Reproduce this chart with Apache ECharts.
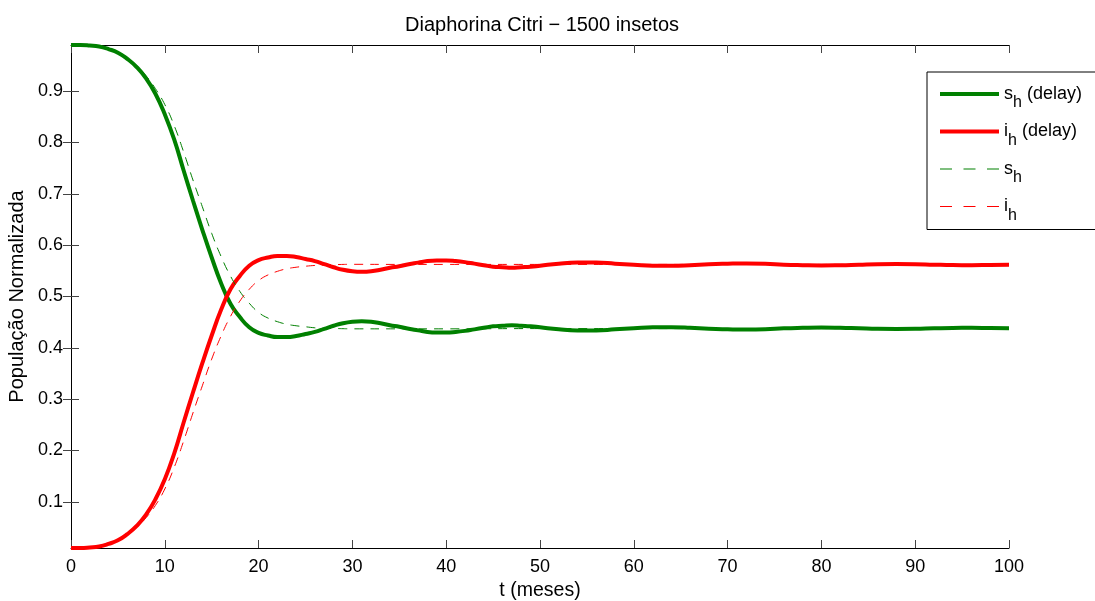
<!DOCTYPE html>
<html>
<head>
<meta charset="utf-8">
<script src="https://cdn.jsdelivr.net/npm/echarts@6/dist/echarts.min.js"></script>
<style>
html,body{margin:0;padding:0;background:#fff;}
#chart{width:1095px;height:601px;}
</style>
</head>
<body>
<div id="chart"></div>
<script>
// time (months) for the delayed model
var tDelay = [0,1,2,3,4,5,6,7,8,9,10,11,12,13,14,15,16,17,18,19,20,21,22,23,24,25,26,27,28,29,30,
  31,32,33,34,35,36,37,38,39,40,41,42,43,44,45,46,47,48,49,50,
  52,54,56,58,60,62,64,66,68,70,72,74,76,78,80,82,84,86,88,90,92,94,96,98,100];
var sDelay = [0.990,0.990,0.989,0.987,0.982,0.975,0.963,0.947,0.925,0.895,0.855,0.806,0.746,0.687,0.630,0.576,0.526,0.486,0.460,0.440,0.429,
  0.424,0.421,0.421,0.423,0.427,0.431,0.437,0.443,0.448,0.451,
  0.452,0.451,0.448,0.444,0.441,0.437,0.434,0.431,0.430,0.430,0.431,0.433,0.436,0.439,0.442,0.443,0.444,0.443,0.442,0.440,
  0.436,0.434,0.434,0.436,0.438,0.440,0.440,0.439,0.437,0.436,0.4355,0.436,0.438,0.439,0.4395,0.439,0.438,0.437,0.4367,0.437,0.438,0.4388,0.439,0.4385,0.438];
var iDelay = [0.010,0.010,0.011,0.013,0.018,0.025,0.037,0.053,0.075,0.105,0.144,0.194,0.254,0.313,0.370,0.424,0.474,0.514,0.540,0.560,0.571,
  0.576,0.579,0.579,0.577,0.573,0.569,0.563,0.557,0.552,0.549,
  0.548,0.549,0.552,0.556,0.559,0.563,0.566,0.569,0.570,0.570,0.569,0.567,0.564,0.561,0.558,0.557,0.556,0.557,0.558,0.560,
  0.564,0.566,0.566,0.564,0.562,0.560,0.560,0.561,0.563,0.564,0.5645,0.564,0.562,0.561,0.5605,0.561,0.562,0.563,0.5633,0.563,0.562,0.5612,0.561,0.5615,0.562];

// time (months) for the model without delay
var tPlain = [0,1,2,3,4,5,6,7,8,9,10,11,12,13,14,15,16,17,18,19,20,21,22,23,24,25,26,27,28,29,30,35,40,50,60,70,80,90,100];
var sPlain = [0.990,0.990,0.989,0.987,0.983,0.976,0.965,0.950,0.930,0.905,0.874,0.833,0.782,0.727,0.675,0.623,0.578,0.540,0.510,0.487,0.469,
  0.458,0.451,0.446,0.443,0.441,0.439,0.438,0.4377,0.4373,0.437,0.437,0.437,0.4375,0.4375,0.4375,0.4375,0.4375,0.4375];
var iPlain = [0.010,0.010,0.011,0.013,0.017,0.024,0.035,0.050,0.069,0.093,0.125,0.167,0.218,0.273,0.326,0.378,0.423,0.461,0.491,0.514,0.531,
  0.542,0.549,0.554,0.557,0.559,0.5605,0.5615,0.562,0.5625,0.5627,0.5625,0.5625,0.5625,0.5625,0.5625,0.5625,0.5625,0.5625];

var yTicks = [0.1,0.2,0.3,0.4,0.5,0.6,0.7,0.8,0.9];
var seriesNames = ['sh (delay)','ih (delay)','sh','ih'];
var legendLabels = {
  'sh (delay)': '{m|s}{b|h}{m| (delay)}',
  'ih (delay)': '{m|i}{b|h}{m| (delay)}',
  'sh': '{m|s}{b|h}',
  'ih': '{m|i}{b|h}'
};

function pairs(t, v){ return t.map(function(x,k){ return [x, v[k]]; }); }

var FONT = 'Liberation Sans, Arial, Helvetica, sans-serif';
var GREEN = '#008000', RED = '#ff0000';
var ICON_SOLID = 'path://M0,0H59V4H0Z';
var ICON_DASH = 'path://M0,0H12V1H0Z M23.5,0H35.5V1H23.5Z M47,0H59V1H47Z';

var chart = echarts.init(document.getElementById('chart'), null, {renderer:'canvas'});
var axisLineStyle = {lineStyle:{color:'#000', width:1}};
var tickStyle = {inside:true, length:8, lineStyle:{color:'#444', width:1}};

chart.setOption({
  animation:false,
  backgroundColor:'#fff',
  textStyle:{fontFamily:FONT},
  title:{
    text:'Diaphorina Citri \u2212 1500 insetos',
    left:405, top:15, padding:0,
    textStyle:{fontFamily:FONT, fontSize:20, fontWeight:'normal', color:'#000'}
  },
  grid:{left:71, right:86, top:45, bottom:53, containLabel:false, outerBoundsMode:'none'},
  legend:{
    orient:'vertical', left:927, top:72,
    padding:[13,40,6,13],
    itemGap:11.5, itemWidth:59, itemHeight:27,
    symbolKeepAspect:true,
    borderColor:'#000', borderWidth:1, backgroundColor:'#fff',
    data:[
      {name:'sh (delay)', icon:ICON_SOLID, itemStyle:{color:GREEN}},
      {name:'ih (delay)', icon:ICON_SOLID, itemStyle:{color:RED}},
      {name:'sh', icon:ICON_DASH, itemStyle:{color:GREEN}},
      {name:'ih', icon:ICON_DASH, itemStyle:{color:RED}}
    ],
    formatter:function(n){ return legendLabels[n]; },
    textStyle:{
      color:'#000',
      rich:{
        m:{fontFamily:FONT, fontSize:18, color:'#000', lineHeight:34},
        b:{fontFamily:FONT, fontSize:16, color:'#000', lineHeight:16, verticalAlign:'bottom'}
      }
    }
  },
  xAxis:[
    {type:'value', position:'bottom', min:0, max:100, interval:10,
     name:'t (meses)', nameLocation:'middle', nameGap:30,
     nameTextStyle:{fontFamily:FONT, fontSize:19.5, color:'#000'},
     axisLine:axisLineStyle, axisTick:tickStyle, splitLine:{show:false},
     axisLabel:{fontFamily:FONT, fontSize:18, color:'#000', margin:10}},
    {type:'value', position:'top', min:0, max:100, interval:10,
     axisLine:axisLineStyle, axisTick:tickStyle, splitLine:{show:false},
     axisLabel:{show:false}}
  ],
  yAxis:[
    {type:'value', position:'left', min:0.01, max:0.99,
     name:'Popula\u00e7\u00e3o Normalizada', nameLocation:'middle', nameGap:44, nameRotate:90,
     nameTextStyle:{fontFamily:FONT, fontSize:20, color:'#000'},
     axisLine:{show:true, lineStyle:{color:'#000', width:1}},
     axisTick:{show:true, inside:true, length:8, lineStyle:{color:'#444', width:1}, customValues:yTicks},
     splitLine:{show:false},
     axisLabel:{fontFamily:FONT, fontSize:18, color:'#000', margin:8, customValues:yTicks,
       formatter:function(v){ return v.toFixed(1); }}},
    {type:'value', position:'right', min:0.01, max:0.99,
     axisLine:{show:true, lineStyle:{color:'#000', width:1}},
     axisTick:{show:true, inside:true, length:8, lineStyle:{color:'#444', width:1}, customValues:yTicks},
     splitLine:{show:false}, axisLabel:{show:false}}
  ],
  series:[
    {name:seriesNames[0], type:'line', data:pairs(tDelay, sDelay), showSymbol:false, symbol:'none', smooth:0.5, clip:false,
     lineStyle:{color:GREEN, width:4}, itemStyle:{color:GREEN}},
    {name:seriesNames[1], type:'line', data:pairs(tDelay, iDelay), showSymbol:false, symbol:'none', smooth:0.5, clip:false,
     lineStyle:{color:RED, width:4}, itemStyle:{color:RED}},
    {name:seriesNames[2], type:'line', data:pairs(tPlain, sPlain), showSymbol:false, symbol:'none', smooth:0.5, clip:false,
     lineStyle:{color:GREEN, width:1, type:[9,7]}, itemStyle:{color:GREEN}},
    {name:seriesNames[3], type:'line', data:pairs(tPlain, iPlain), showSymbol:false, symbol:'none', smooth:0.5, clip:false,
     lineStyle:{color:RED, width:1, type:[9,7]}, itemStyle:{color:RED}}
  ]
});
</script>
</body>
</html>
